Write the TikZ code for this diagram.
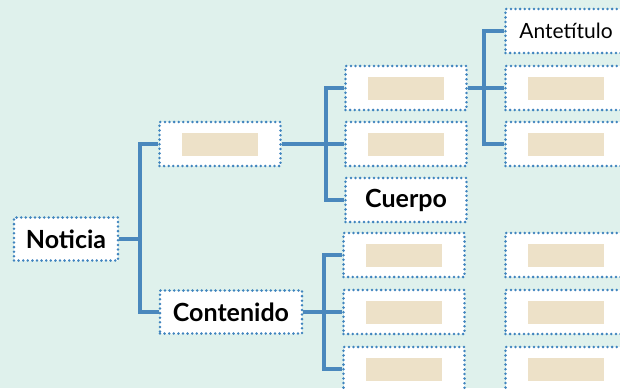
\documentclass[tikz,border=0pt]{standalone}
\usepackage{fontspec}
\setmainfont{Lato}
\usepackage{xcolor}
\usetikzlibrary{positioning}
\definecolor{mintbg}{HTML}{DFF1EC}
\definecolor{linkblue}{HTML}{4A88BD}
\definecolor{dotblue}{HTML}{3F84BE}
\definecolor{tanfill}{HTML}{EDE1C8}
\newcommand{\blankbar}{\textcolor{tanfill}{\rule{76pt}{23pt}}}
\tikzset{
	cell/.style={
			fill=white, draw=dotblue, line width=2.8pt, line cap=round,
			dash pattern=on 0pt off 4.6pt,
			minimum width=121pt, minimum height=44pt, inner sep=0pt,
			font=\fontsize{25}{28}\selectfont\bfseries
		},
	link/.style={draw=linkblue, line width=3.2pt}
}

\begin{document}
\begin{tikzpicture}[x=1pt, y=-1pt]
		% Background and picture size
		\fill[mintbg] (0,0) rectangle (620,388);
		\useasboundingbox (0,0) rectangle (620,388);

		% First level
		\node[cell, minimum width=104pt, minimum height=43pt] (noticia) at (66,239) {Noticia};
		\node[cell] (top) at (220,144) {\blankbar};
		\node[cell, minimum width=142pt, minimum height=43pt] (contenido) at (231,312) {Contenido};

		% Second level, upper branch
		\node[cell] (up1) at (406,88) {\blankbar};
		\node[cell] (up2) at (406,144) {\blankbar};
		\node[cell] (cuerpo) at (406,200) {Cuerpo};

		% Second level, lower branch
		\node[cell] (low1) at (404,255) {\blankbar};
		\node[cell] (low2) at (404,312) {\blankbar};
		\node[cell] (low3) at (404,369) {\blankbar};

		% Third level (cut by the right edge)
		\node[cell, font=\fontsize{21}{24}\selectfont] (ante) at (566,31) {Antetítulo};
		\node[cell] (right1) at (566,88) {\blankbar};
		\node[cell] (right2) at (566,144) {\blankbar};
		\node[cell] (right3) at (566,255) {\blankbar};
		\node[cell] (right4) at (566,312) {\blankbar};
		\node[cell] (right5) at (566,369) {\blankbar};

		% Connectors
		\coordinate (j1) at (140,239);
		\coordinate (j2) at (326,144);
		\coordinate (j3) at (484,88);
		\coordinate (j4) at (324,312);
		\draw[link] (noticia.east) -- (j1);
		\draw[link] (top.west) -| (j1) |- (contenido.west);
		\draw[link] (top.east) -- (up2.west);
		\draw[link] (up1.west) -| (j2) |- (cuerpo.west);
		\draw[link] (up1.east) -- (right1.west);
		\draw[link] (ante.west) -| (j3) |- (right2.west);
		\draw[link] (contenido.east) -- (low2.west);
		\draw[link] (low1.west) -| (j4) |- (low3.west);
	\end{tikzpicture}
\end{document}
